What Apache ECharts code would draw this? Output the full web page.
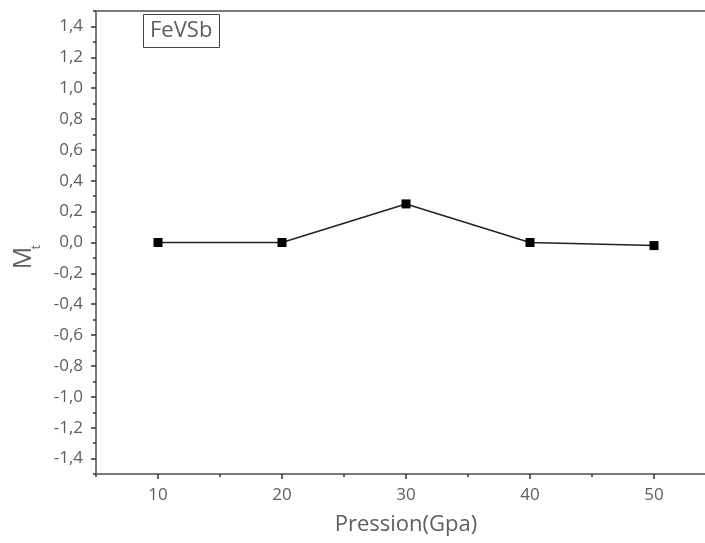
<!DOCTYPE html>
<html>
<head>
<meta charset="utf-8">
<script src="https://cdn.jsdelivr.net/npm/echarts@6/dist/echarts.min.js"></script>
<style>
  html, body { margin: 0; padding: 0; background: #fff; overflow: hidden; }
  #chart { width: 705px; height: 543px; }
</style>
</head>
<body>
<div id="chart"></div>
<script>
// Total magnetic moment of FeVSb versus pressure
const pressure = [10, 20, 30, 40, 50];
const moment = [0.0, 0.0, 0.25, 0.0, -0.02];

const xMajorTicks = [10, 20, 30, 40, 50];
const xMinorTicks = [5, 15, 25, 35, 45, 55];
const yMajorTicks = [-1.4, -1.2, -1.0, -0.8, -0.6, -0.4, -0.2, 0.0, 0.2, 0.4, 0.6, 0.8, 1.0, 1.2, 1.4];
const yMinorTicks = [-1.5, -1.3, -1.1, -0.9, -0.7, -0.5, -0.3, -0.1, 0.1, 0.3, 0.5, 0.7, 0.9, 1.1, 1.3, 1.5];

const font = '"Open Sans", "DejaVu Sans", sans-serif';
const textColor = '#5e5e5e';
const axisColor = '#7a7a7a';
const tickColor = '#333';

const chart = echarts.init(document.getElementById('chart'), null, { renderer: 'canvas' });

const yLabel = v => v.toFixed(1).replace('.', ',');

// the frame runs a little past the right edge of the page
const frame = { left: 96, right: -11, top: 11, bottom: 69, containLabel: false, outerBoundsMode: 'none' };

chart.setOption({
  animation: false,
  backgroundColor: '#fff',
  title: {
    text: 'FeVSb',
    left: 143,
    top: 14,
    padding: [3, 7, 3, 7],
    borderColor: '#444',
    borderWidth: 1,
    textStyle: { fontFamily: font, fontSize: 22, lineHeight: 28, fontWeight: 'normal', color: textColor }
  },
  // grid 0 holds the data and major ticks, grid 1 (same box) the minor ticks
  grid: [Object.assign({}, frame), Object.assign({}, frame)],
  graphic: [
    {
      type: 'text', x: 24, y: 258, rotation: Math.PI / 2,
      style: { text: 'M', fontFamily: font, fontSize: 25, fill: textColor, align: 'center', verticalAlign: 'middle' }
    },
    {
      type: 'text', x: 37, y: 247, rotation: Math.PI / 2,
      style: { text: 't', fontFamily: font, fontSize: 12, fill: textColor, align: 'center', verticalAlign: 'middle' }
    }
  ],
  xAxis: [
    {
      gridIndex: 0, type: 'value', min: 5, max: 55, position: 'bottom',
      name: 'Pression(Gpa)', nameLocation: 'middle', nameGap: 40,
      nameTextStyle: { fontFamily: font, fontSize: 22, color: textColor },
      axisLine: { show: true, onZero: false, lineStyle: { color: axisColor, width: 2 } },
      axisTick: { show: true, length: 5, customValues: xMajorTicks, lineStyle: { color: tickColor, width: 1.5 } },
      axisLabel: { customValues: xMajorTicks, margin: 13, fontFamily: font, fontSize: 17, color: textColor },
      splitLine: { show: false }
    },
    {
      gridIndex: 0, type: 'value', min: 5, max: 55, position: 'top',
      axisLine: { show: true, onZero: false, lineStyle: { color: axisColor, width: 2 } },
      axisTick: { show: false },
      axisLabel: { show: false },
      splitLine: { show: false }
    },
    {
      gridIndex: 1, type: 'value', min: 5, max: 55, position: 'bottom',
      axisLine: { show: false, onZero: false },
      axisTick: { show: true, length: 3, customValues: xMinorTicks, lineStyle: { color: tickColor, width: 1.5 } },
      axisLabel: { show: false },
      splitLine: { show: false }
    }
  ],
  yAxis: [
    {
      gridIndex: 0, type: 'value', min: -1.5, max: 1.5, position: 'left',
      axisLine: { show: true, onZero: false, lineStyle: { color: axisColor, width: 2 } },
      axisTick: { show: true, length: 5, customValues: yMajorTicks, lineStyle: { color: tickColor, width: 1.5 } },
      axisLabel: { customValues: yMajorTicks, margin: 13, formatter: yLabel, fontFamily: font, fontSize: 17, color: textColor },
      splitLine: { show: false }
    },
    {
      gridIndex: 1, type: 'value', min: -1.5, max: 1.5, position: 'left',
      axisLine: { show: false, onZero: false },
      axisTick: { show: true, length: 3, customValues: yMinorTicks, lineStyle: { color: tickColor, width: 1.5 } },
      axisLabel: { show: false },
      splitLine: { show: false }
    }
  ],
  series: [{
    type: 'line',
    xAxisIndex: 0,
    yAxisIndex: 0,
    data: pressure.map((p, i) => [p, moment[i]]),
    symbol: 'rect',
    symbolSize: 9,
    itemStyle: { color: '#000' },
    lineStyle: { color: '#222', width: 1.5 }
  }]
});
</script>
</body>
</html>
